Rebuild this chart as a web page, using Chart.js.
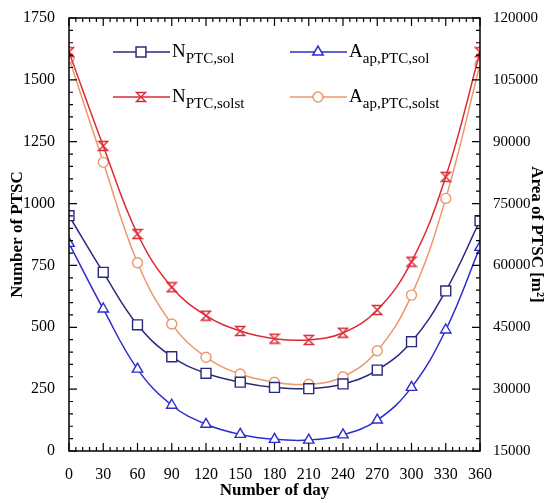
<!DOCTYPE html>
<html>
<head>
<meta charset="utf-8">
<script src="https://cdn.jsdelivr.net/npm/chart.js@4/dist/chart.umd.min.js"></script>
<style>
  html, body { margin: 0; padding: 0; background: #fff; }
  #wrap { width: 547px; height: 503px; }
</style>
</head>
<body>
<div id="wrap"><canvas id="myChart" width="547" height="503"></canvas></div>
<script>
// days of the year
const days = [0, 30, 60, 90, 120, 150, 180, 210, 240, 270, 300, 330, 360];

// number of collectors (left axis)
const nSol   = [951, 722, 510, 381, 314, 278, 257, 252, 271, 327, 442, 647, 931];
const nSolst = [1612, 1233, 877, 662, 547, 485, 454, 449, 478, 570, 765, 1108, 1612];

// aperture area, m2 (right axis)
const aSol   = [65340, 49440, 34860, 26100, 21480, 19020, 17820, 17640, 18900, 22500, 30420, 44340, 64380];
const aSolst = [110300, 85000, 60660, 45780, 37740, 33660, 31680, 31200, 33000, 39300, 52800, 76260, 108800];

const leftTicks = [0, 250, 500, 750, 1000, 1250, 1500, 1750];
const rightTicks = [15000, 30000, 45000, 60000, 75000, 90000, 105000, 120000];

const navy = 'rgb(42,42,125)';
const blue = 'rgb(45,45,205)';
const red = 'rgb(218,42,52)';
const orange = 'rgb(236,152,108)';
const serif = "'Liberation Serif', 'Times New Roman', serif";

// hourglass marker
function hourglass(color) {
  const c = document.createElement('canvas');
  c.width = 12; c.height = 12;
  const g = c.getContext('2d');
  g.strokeStyle = color;
  g.lineWidth = 1.3;
  g.beginPath();
  g.moveTo(1.5, 1.5); g.lineTo(10.5, 1.5); g.lineTo(1.5, 10.5);
  g.lineTo(10.5, 10.5); g.closePath();
  g.stroke();
  return c;
}
const hg = hourglass(red);

function pts(xs, ys) {
  return xs.map((x, i) => ({ x: x, y: ys[i] }));
}

const series = [
  { main: 'N', sub: 'PTC,sol', data: nSol, axis: 'y', color: navy, style: 'rect', r: 7 },
  { main: 'A', sub: 'ap,PTC,sol', data: aSol, axis: 'y2', color: blue, style: 'triangle', r: 6 },
  { main: 'N', sub: 'PTC,solst', data: nSolst, axis: 'y', color: red, style: hg, r: 6 },
  { main: 'A', sub: 'ap,PTC,solst', data: aSolst, axis: 'y2', color: orange, style: 'circle', r: 5 }
];

// inward ticks, frame and the legend with subscripts
const framePlugin = {
  id: 'frame',
  afterDatasetsDraw(chart) {
    const ctx = chart.ctx;
    const a = chart.chartArea;
    const sx = chart.scales.x, sy = chart.scales.y, sy2 = chart.scales.y2;
    ctx.save();
    ctx.strokeStyle = '#000';
    ctx.lineWidth = 1.5;
    ctx.strokeRect(a.left, a.top, a.right - a.left, a.bottom - a.top);
    ctx.lineWidth = 1.2;
    ctx.beginPath();
    for (let v = 0; v <= 360; v += 6) {
      const px = sx.getPixelForValue(v);
      const len = v % 30 === 0 ? 8 : 4;
      ctx.moveTo(px, a.bottom); ctx.lineTo(px, a.bottom - len);
      ctx.moveTo(px, a.top); ctx.lineTo(px, a.top + len);
    }
    for (let v = 0; v <= 1750; v += 50) {
      const py = sy.getPixelForValue(v);
      const len = v % 250 === 0 ? 8 : 4;
      ctx.moveTo(a.left, py); ctx.lineTo(a.left + len, py);
    }
    for (let v = 15000; v <= 120000; v += 3000) {
      const py = sy2.getPixelForValue(v);
      const len = v % 15000 === 0 ? 8 : 4;
      ctx.moveTo(a.right, py); ctx.lineTo(a.right - len, py);
    }
    ctx.stroke();

    // legend
    const spots = [[113, 52], [290, 52], [113, 97], [290, 97]];
    series.forEach((s, i) => {
      const [lx, ly] = spots[i];
      ctx.strokeStyle = s.color;
      ctx.lineWidth = 1.5;
      ctx.beginPath();
      ctx.moveTo(lx, ly); ctx.lineTo(lx + 57, ly);
      ctx.stroke();
      ctx.fillStyle = '#fff';
      Chart.helpers.drawPoint(ctx, { pointStyle: s.style, radius: s.r, rotation: 0, borderWidth: 1.5 }, lx + 28, ly);
      ctx.fillStyle = '#000';
      ctx.textBaseline = 'alphabetic';
      ctx.textAlign = 'left';
      ctx.font = '19px ' + serif;
      ctx.fillText(s.main, lx + 59, ly + 5);
      const w = ctx.measureText(s.main).width;
      ctx.font = '15px ' + serif;
      ctx.fillText(s.sub, lx + 59 + w, ly + 11);
    });
    ctx.restore();
  }
};

const plain = v => String(v);

const ctx = document.getElementById('myChart').getContext('2d');
const chart = new Chart(ctx, {
  type: 'line',
  data: {
    datasets: series.map(s => ({
      label: s.main + ' ' + s.sub,
      data: pts(days, s.data),
      yAxisID: s.axis,
      borderColor: s.color,
      backgroundColor: '#fff',
      borderWidth: 1.5,
      tension: 0.4,
      pointStyle: s.style,
      pointRadius: s.r,
      pointBorderWidth: 1.4,
      pointBorderColor: s.color,
      pointBackgroundColor: '#fff'
    }))
  },
  options: {
    responsive: false,
    animation: false,
    layout: { padding: { top: 18, left: 0, right: 0, bottom: 0 } },
    plugins: {
      legend: { display: false },
      tooltip: { enabled: false }
    },
    scales: {
      x: {
        type: 'linear',
        min: 0, max: 360,
        afterFit: s => { s.height = 52; },
        grid: { display: false },
        border: { display: false },
        ticks: { stepSize: 30, color: '#000', padding: 6, callback: plain, font: { family: serif, size: 16 } },
        title: { display: true, text: 'Number of day', color: '#000', padding: { top: 0, bottom: 2 }, font: { family: serif, size: 17, weight: 'bold' } }
      },
      y: {
        position: 'left',
        min: 0, max: 1750,
        afterFit: s => { s.width = 69; },
        afterBuildTicks: s => { s.ticks = leftTicks.map(v => ({ value: v })); },
        grid: { display: false },
        border: { display: false },
        ticks: { color: '#000', padding: 6, callback: plain, font: { family: serif, size: 16 } },
        title: { display: true, text: 'Number of PTSC', color: '#000', padding: { top: 7, bottom: 0 }, font: { family: serif, size: 17, weight: 'bold' } }
      },
      y2: {
        position: 'right',
        min: 15000, max: 120000,
        afterFit: s => { s.width = 67; },
        afterBuildTicks: s => { s.ticks = rightTicks.map(v => ({ value: v })); },
        grid: { display: false },
        border: { display: false },
        ticks: { color: '#000', padding: 5, callback: plain, font: { family: serif, size: 15 } },
        title: { display: true, text: 'Area of PTSC [m²]', color: '#000', padding: { top: 0, bottom: 0 }, font: { family: serif, size: 17, weight: 'bold' } }
      }
    }
  },
  plugins: [framePlugin]
});
</script>
</body>
</html>
